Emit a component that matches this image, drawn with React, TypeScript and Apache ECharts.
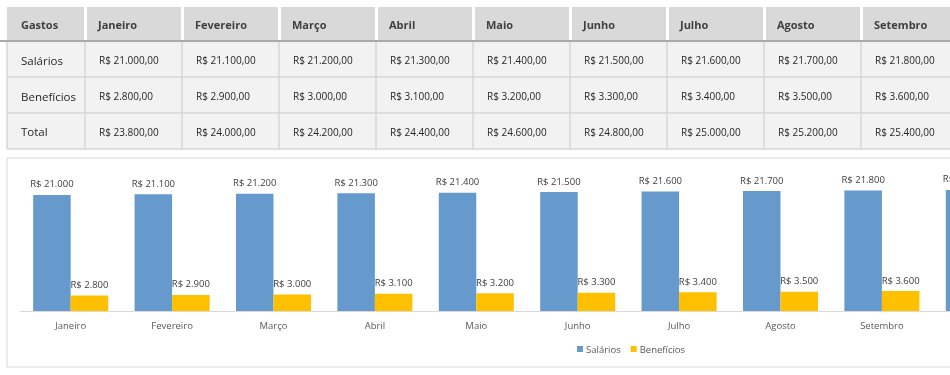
import React, { useEffect, useRef } from "react";
import * as echarts from "echarts";

const months = ["Janeiro", "Fevereiro", "Março", "Abril", "Maio", "Junho", "Julho", "Agosto", "Setembro", "Outubro"];
const salarios = [21000, 21100, 21200, 21300, 21400, 21500, 21600, 21700, 21800, 21900];
const beneficios = [2800, 2900, 3000, 3100, 3200, 3300, 3400, 3500, 3600, 3700];
const totais = [23800, 24000, 24200, 24400, 24600, 24800, 25000, 25200, 25400, 25600];
const rowLabels = ["Salários", "Benefícios", "Total"];
const headerFirst = "Gastos";
const visibleTableColumns = 9;

const FONT = "'Open Sans', 'Noto Sans', sans-serif";

function fmtThousands(v: number): string {
  return String(Math.round(v)).replace(/\B(?=(\d{3})+(?!\d))/g, ".");
}
function fmtMoney(v: number): string {
  return "R$ " + fmtThousands(v) + ",00";
}

export default function App() {
  const ref = useRef<HTMLDivElement>(null);
  useEffect(() => {
    if (!ref.current) return;
    const chart = echarts.init(ref.current, undefined, { renderer: "svg" });

    const graphics: any[] = [];
    const PITCH = 97;
    const tableMonths = months.slice(0, visibleTableColumns);
    // header cells
    graphics.push({ type: "rect", shape: { x: 7, y: 7, width: 77, height: 33 }, style: { fill: "#d9d9d9" }, silent: true });
    graphics.push({ type: "text", x: 21, y: 24, style: { text: headerFirst, fill: "#404040", fontSize: 11, fontWeight: "bold", fontFamily: FONT, verticalAlign: "middle", textVerticalAlign: "middle" }, silent: true });
    tableMonths.forEach((m, i) => {
      const x0 = 87 + i * PITCH;
      graphics.push({ type: "rect", shape: { x: x0, y: 7, width: 94, height: 33 }, style: { fill: "#d9d9d9" }, silent: true });
      graphics.push({ type: "text", x: x0 + 11, y: 24, style: { text: m, fill: "#404040", fontSize: 11, fontWeight: "bold", fontFamily: FONT, verticalAlign: "middle", textVerticalAlign: "middle" }, silent: true });
    });
    // body background
    graphics.push({ type: "rect", shape: { x: 7, y: 42, width: 1000, height: 107 }, style: { fill: "#f2f2f2" }, silent: true });
    // horizontal borders
    [77, 113, 149].forEach((y) => {
      graphics.push({ type: "line", shape: { x1: 7, y1: y, x2: 1000, y2: y }, style: { stroke: "#d6d6d6", lineWidth: 1.5 }, silent: true });
    });
    // vertical borders
    graphics.push({ type: "line", shape: { x1: 7, y1: 42, x2: 7, y2: 149 }, style: { stroke: "#d6d6d6", lineWidth: 1.5 }, silent: true });
    tableMonths.forEach((_, i) => {
      const x = 85 + i * PITCH;
      graphics.push({ type: "line", shape: { x1: x, y1: 42, x2: x, y2: 149 }, style: { stroke: "#d6d6d6", lineWidth: 1.5 }, silent: true });
    });
    // dark rule under header
    graphics.push({ type: "line", shape: { x1: 0, y1: 41, x2: 1000, y2: 41 }, style: { stroke: "#8c8c8c", lineWidth: 1.5 }, silent: true });
    // body texts
    const rowY = [60, 96, 131.5];
    const rows = [salarios, beneficios, totais];
    rowLabels.forEach((lab, r) => {
      graphics.push({ type: "text", x: 21, y: rowY[r], style: { text: lab, fill: "#262626", fontSize: 11.5, fontFamily: FONT, verticalAlign: "middle", textVerticalAlign: "middle" }, silent: true });
      rows[r].slice(0, visibleTableColumns).forEach((v, i) => {
        graphics.push({ type: "text", x: 99 + i * PITCH, y: rowY[r], style: { text: fmtMoney(v), fill: "#262626", fontSize: 10, fontFamily: FONT, verticalAlign: "middle", textVerticalAlign: "middle" }, silent: true });
      });
    });
    // chart frame
    graphics.push({ type: "rect", z: -10, shape: { x: 7, y: 158, width: 1000, height: 209 }, style: { fill: "#ffffff", stroke: "#d9d9d9", lineWidth: 1 }, silent: true });

    const labelStyle = {
      show: true,
      position: "top",
      distance: 6,
      color: "#404040",
      fontSize: 9.5,
      fontFamily: FONT,
      formatter: (p: any) => "R$ " + fmtThousands(p.value),
    };

    chart.setOption({
      animation: false,
      graphic: graphics,
      grid: { left: 20, top: 170, height: 141, width: months.length * 101.4, outerBoundsMode: "none" },
      xAxis: {
        type: "category",
        data: months,
        axisLine: { lineStyle: { color: "#d9d9d9", width: 1 } },
        axisTick: { show: false },
        axisLabel: { color: "#595959", fontSize: 9.5, fontFamily: FONT, margin: 9 },
      },
      yAxis: { type: "value", min: 0, max: 25500, show: false, splitLine: { show: false } },
      legend: {
        data: ["Salários", "Benefícios"],
        left: 577,
        top: 344,
        icon: "rect",
        itemWidth: 6,
        itemHeight: 6,
        itemGap: 10,
        padding: 0,
        textStyle: { color: "#595959", fontSize: 9.5, fontFamily: FONT, padding: [0, 0, 0, -2] },
      },
      series: [
        { name: "Salários", type: "bar", data: salarios, barGap: "0%", barCategoryGap: "26%", itemStyle: { color: "#6699cc" }, label: labelStyle },
        { name: "Benefícios", type: "bar", data: beneficios, barGap: "0%", barCategoryGap: "26%", itemStyle: { color: "#ffc000" }, label: labelStyle },
      ],
    });
    return () => chart.dispose();
  }, []);
  return (
    <div style={{ position: "fixed", left: 0, top: 0, width: 950, height: 375, overflow: "hidden" }}>
      <div ref={ref} style={{ position: "absolute", left: 0, top: 0, width: 1100, height: 375 }} />
    </div>
  );
}
